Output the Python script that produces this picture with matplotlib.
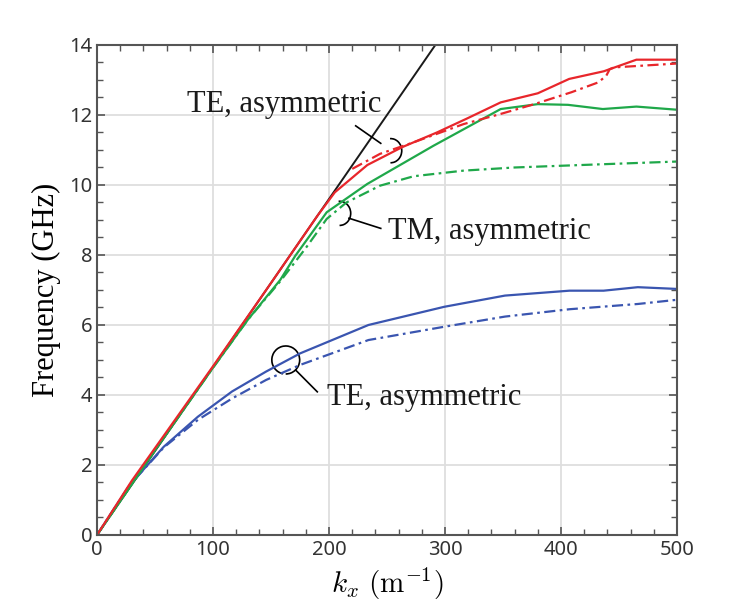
import matplotlib
matplotlib.use("Agg")
import matplotlib.pyplot as plt
from matplotlib.patches import Arc
from matplotlib.ticker import MultipleLocator

# light line
light_k = [0, 300]
light_f = [0, 14.4]

# TE symmetric / asymmetric (red)
red_k = [0, 30, 60, 100, 150, 190, 205, 233, 263, 293, 319, 348, 380, 407, 437, 465, 500]
red_f = [0, 1.55, 2.95, 4.82, 7.2, 9.12, 9.79, 10.57, 11.08, 11.5, 11.9, 12.36, 12.62, 13.03, 13.25, 13.58, 13.58]
red_dd_k = [220, 244, 273, 316, 348, 377, 409, 432, 439, 442, 446, 500]
red_dd_f = [10.46, 10.89, 11.22, 11.74, 12.03, 12.31, 12.65, 12.93, 13.12, 13.31, 13.36, 13.47]

# TM (green)
green_k = [0, 50, 100, 130, 158, 171, 198, 233, 290, 348, 380, 406, 436, 465, 500]
green_f = [0, 2.42, 4.78, 6.15, 7.29, 7.98, 9.22, 10.03, 11.12, 12.17, 12.31, 12.29, 12.17, 12.24, 12.15]
green_dd_k = [0, 50, 100, 130, 158, 180, 198, 215, 244, 273, 316, 360, 417, 500]
green_dd_f = [0, 2.42, 4.78, 6.15, 7.25, 8.2, 9.03, 9.5, 9.98, 10.25, 10.41, 10.5, 10.57, 10.67]

# TE (blue)
blue_k = [0, 28, 57.5, 87, 116.4, 145.8, 175.2, 234, 299.4, 351.7, 407.3, 436.7, 466.2, 500]
blue_f = [0, 1.42, 2.52, 3.38, 4.10, 4.67, 5.19, 6.0, 6.52, 6.84, 6.98, 6.98, 7.08, 7.03]
blue_dd_k = [0, 28, 57.5, 87, 116.4, 145.8, 175.2, 234, 299.4, 351.7, 407.3, 466.2, 500]
blue_dd_f = [0, 1.42, 2.5, 3.29, 3.90, 4.43, 4.86, 5.57, 5.95, 6.24, 6.45, 6.6, 6.72]

RED = "#e8262b"
GREEN = "#1fa84a"
BLUE = "#3a55b0"
DASHDOT = (0, (5, 2, 1.2, 2))

plt.rcParams["mathtext.fontset"] = "cm"

fig = plt.figure(figsize=(7.48, 6.03), dpi=100)
ax = fig.add_axes([0.1297, 0.1128, 0.7754, 0.8126])

ax.plot(light_k, light_f, color="#1a1a1a", lw=1.4)
ax.plot(blue_k, blue_f, color=BLUE, lw=1.6)
ax.plot(blue_dd_k, blue_dd_f, color=BLUE, lw=1.6, ls=DASHDOT)
ax.plot(green_k, green_f, color=GREEN, lw=1.6)
ax.plot(green_dd_k, green_dd_f, color=GREEN, lw=1.6, ls=DASHDOT)
ax.plot(red_k, red_f, color=RED, lw=1.6)
ax.plot(red_dd_k, red_dd_f, color=RED, lw=1.6, ls=DASHDOT)

ax.set_xlim(0, 500)
ax.set_ylim(0, 14)
ax.xaxis.set_major_locator(MultipleLocator(100))
ax.xaxis.set_minor_locator(MultipleLocator(20))
ax.yaxis.set_major_locator(MultipleLocator(2))
ax.yaxis.set_minor_locator(MultipleLocator(0.5))
ax.grid(True, which="major", color="#dedede", lw=1.3)
ax.set_axisbelow(True)
ax.tick_params(which="both", direction="in", top=True, right=True,
               color="#555555", labelcolor="#333333", labelsize=14.5)
ax.tick_params(which="major", length=6, width=1.2)
ax.tick_params(which="minor", length=4, width=1.0)
for lab in ax.get_xticklabels() + ax.get_yticklabels():
    lab.set_family("Noto Sans")
for sp in ax.spines.values():
    sp.set_color("#555555")
    sp.set_linewidth(1.5)

ax.set_ylabel("Frequency (GHz)", family="Liberation Serif", fontsize=22, labelpad=6)
ax.set_xlabel(r"$k_x\ (\mathrm{m}^{-1})$", fontsize=21, labelpad=4)

# annotations: open circles with leader lines
serif = dict(family="Liberation Serif", fontsize=22, color="#1a1a1a")
ax.add_patch(Arc((253.2, 10.98), 19, 0.69, theta1=-125, theta2=150, color="black", lw=1.2))
ax.plot([223, 244.6], [11.69, 11.19], color="black", lw=1.2)
ax.text(77.6, 12.3, "TE, asymmetric", ha="left", va="center", **serif)

ax.add_patch(Arc((209.2, 9.19), 19, 0.69, theta1=-110, theta2=160, color="black", lw=1.2))
ax.plot([217.2, 244.6], [9.05, 8.76], color="black", lw=1.2)
ax.text(250.5, 8.68, "TM, asymmetric", ha="left", va="center", **serif)

ax.add_patch(Arc((162.7, 5.0), 24, 0.8, theta1=-100, theta2=190, color="black", lw=1.2))
ax.plot([171.3, 189.9], [4.71, 4.09], color="black", lw=1.2)
ax.text(198, 3.92, "TE, asymmetric", ha="left", va="center", **serif)

fig.savefig("out.png", dpi=100)
